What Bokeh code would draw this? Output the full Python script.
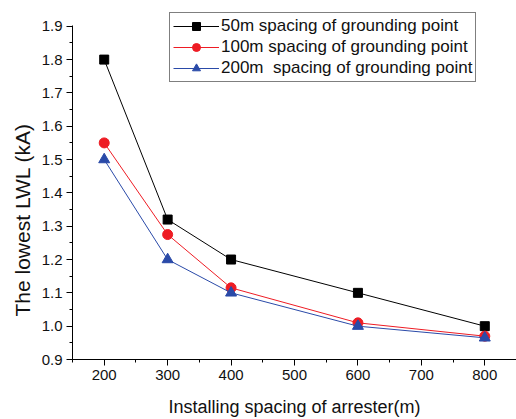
from bokeh.plotting import figure
from bokeh.models import (Range1d, SingleIntervalTicker, PrintfTickFormatter,
                          Title, Legend, LegendItem)
from bokeh.embed import file_html
from bokeh.resources import INLINE

# ---- data ----
spacing = [200, 300, 400, 600, 800]
lwl_50m = [1.80, 1.32, 1.20, 1.10, 1.00]
lwl_100m = [1.55, 1.275, 1.115, 1.01, 0.97]
lwl_200m = [1.50, 1.20, 1.10, 1.00, 0.965]
labels = ["50m spacing of grounding point",
          "100m spacing of grounding point",
          "200m  spacing of grounding point"]
x_label = "Installing spacing of arrester(m)"
y_label = "The lowest LWL (kA)"
y_min, y_max = 0.9, 1.9

FONT = "Liberation Sans"

# frame reaches the top of the canvas so that the legend (which is clipped
# to the frame) can sit above the top of the y axis, as in the reference
H, TOP_PAD, BOTTOM = 419, 26, 57
frame_h = H - BOTTOM
axis_h = frame_h - TOP_PAD
y_top = y_min + (y_max - y_min) * frame_h / axis_h

p = figure(width=516, height=H, output_backend="svg", toolbar_location=None,
           x_range=Range1d(150, 850), y_range=Range1d(y_min, y_top),
           min_border_left=72, min_border_top=0, min_border_bottom=BOTTOM,
           min_border_right=0)
p.outline_line_color = None
p.xgrid.visible = False
p.ygrid.visible = False
p.background_fill_color = "white"
p.border_fill_color = "white"

p.xaxis.ticker = SingleIntervalTicker(interval=100, num_minor_ticks=2)
p.yaxis.ticker = SingleIntervalTicker(interval=0.1, num_minor_ticks=2)
p.yaxis.formatter = PrintfTickFormatter(format="%.1f")
p.yaxis.bounds = (y_min, y_max + 0.001)

for ax in (p.xaxis, p.yaxis):
    ax.axis_line_color = "black"
    ax.axis_line_width = 1
    ax.major_tick_in = 0
    ax.major_tick_out = 6
    ax.minor_tick_in = 0
    ax.minor_tick_out = 3
    ax.major_tick_line_color = "black"
    ax.minor_tick_line_color = "black"
    ax.major_label_text_font = FONT
    ax.major_label_text_font_size = "15px"
    ax.major_label_text_color = "#111111"
    ax.major_label_standoff = 4

p.xaxis.axis_label = x_label
p.xaxis.axis_label_text_font = FONT
p.xaxis.axis_label_text_font_size = "18px"
p.xaxis.axis_label_text_font_style = "normal"
p.xaxis.axis_label_text_color = "#111111"
p.xaxis.axis_label_standoff = 14

ytitle = Title(text=y_label, text_font=FONT, text_font_size="21px",
               text_font_style="normal", text_color="#111111",
               align="left", offset=43, standoff=9)
p.add_layout(ytitle, "left")

colors = ["#000000", "#ee1c24", "#2a4aa8"]
series = [lwl_50m, lwl_100m, lwl_200m]
markers = ["square", "circle", "triangle"]
sizes = [9, 10, 11]

items = []
for ys, c, m, s, lab in zip(series, colors, markers, sizes, labels):
    ln = p.line(spacing, ys, line_color=c, line_width=1)
    sc = p.scatter(spacing, ys, marker=m, size=s, fill_color=c, line_color=c)
    items.append(LegendItem(label=lab, renderers=[ln, sc]))

legend = Legend(items=items, location=(97, 277))
legend.border_line_color = "black"
legend.border_line_width = 1
legend.background_fill_color = "white"
legend.background_fill_alpha = 1
legend.label_text_font = FONT
legend.label_text_font_size = "17px"
legend.label_text_color = "#111111"
legend.glyph_width = 46
legend.glyph_height = 20
legend.label_height = 20
legend.label_standoff = 2
legend.padding = 3
legend.spacing = 1
legend.margin = 0
p.add_layout(legend, "center")

open("out.html", "w").write(file_html(p, INLINE))
